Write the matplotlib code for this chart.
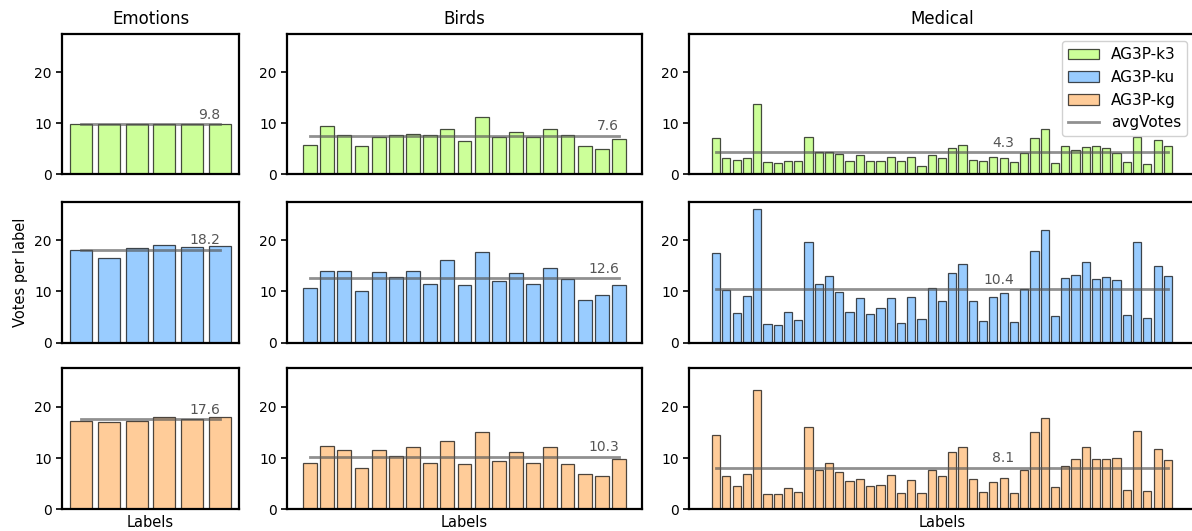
import numpy as np
import matplotlib
matplotlib.use('Agg')
import matplotlib.pyplot as plt

#Dataset names and number of labels per dataset.
datasets = ['Emotions', 'Birds', 'Medical']
methods = ['AG3P-k3', 'AG3P-ku', 'AG3P-kg']
colors = ['#ccff99', '#99ccff', '#ffcc99']

#Votes per label.
emotions_k3 = [9.9, 9.8, 9.8, 9.8, 9.8, 9.8]
emotions_ku = [18.05, 16.45, 18.4, 19.0, 18.6, 18.9]
emotions_kg = [17.25, 17.05, 17.25, 18.1, 17.7, 18.1]

birds_k3 = [5.85, 9.5, 7.75, 5.5, 7.4, 7.8, 7.95, 7.75, 8.9, 6.6,
            11.2, 7.4, 8.35, 7.25, 8.9, 7.8, 5.6, 4.9, 6.9]
birds_ku = [10.75, 13.95, 13.95, 10.15, 13.75, 12.8, 13.95, 11.4, 16.15, 11.3,
            17.8, 12.1, 13.55, 11.4, 14.65, 12.4, 8.3, 9.3, 11.25]
birds_kg = [8.95, 12.45, 11.5, 8.05, 11.5, 10.5, 12.25, 9.1, 13.25, 8.9,
            15.05, 9.35, 11.25, 8.95, 12.25, 8.9, 6.9, 6.45, 9.75]

medical_k3 = [7.1, 3.2, 2.85, 3.2, 13.7, 2.5, 2.2, 2.7, 2.6, 7.35,
              4.3, 4.3, 4.0, 2.65, 3.8, 2.6, 2.6, 3.5, 2.6, 3.4,
              1.65, 3.85, 3.2, 5.1, 5.75, 2.85, 2.7, 3.4, 3.2, 2.4,
              4.2, 7.15, 8.9, 2.2, 5.5, 4.8, 5.4, 5.5, 5.2, 4.2,
              2.45, 7.3, 2.0, 6.7, 5.5]
medical_ku = [17.6, 10.35, 5.85, 9.1, 26.2, 3.7, 3.5, 5.9, 4.5, 19.6,
              11.45, 13.0, 9.95, 6.05, 8.75, 5.65, 6.8, 8.7, 3.9, 8.95,
              4.55, 10.6, 8.2, 13.7, 15.4, 8.1, 4.2, 9.0, 9.8, 4.0,
              10.5, 17.9, 22.0, 5.15, 12.65, 13.2, 15.8, 12.4, 12.8, 12.3,
              5.4, 19.75, 4.9, 15.05, 13.0]
medical_kg = [14.6, 6.5, 4.6, 6.8, 23.2, 2.9, 3.05, 4.2, 3.45, 16.1,
              7.6, 8.95, 7.2, 5.6, 5.85, 4.6, 4.75, 6.75, 3.1, 5.7,
              3.2, 7.6, 6.45, 11.25, 12.15, 5.85, 3.4, 5.4, 6.15, 3.2,
              7.6, 15.1, 17.9, 4.35, 8.5, 9.75, 12.15, 9.85, 9.75, 10.05,
              3.7, 15.2, 3.5, 11.75, 9.55]

#Average votes per label as printed on the figure (rows = methods, cols = datasets).
avg_k3 = [9.8, 7.6, 4.3]
avg_ku = [18.2, 12.6, 10.4]
avg_kg = [17.6, 10.3, 8.1]

#Label index where the average text ends.
text_pos = [5, 18, 29]

values = [[emotions_k3, birds_k3, medical_k3],
          [emotions_ku, birds_ku, medical_ku],
          [emotions_kg, birds_kg, medical_kg]]
avgs = [avg_k3, avg_ku, avg_kg]

fig = plt.figure(figsize=(11.92, 5.31), dpi=100)

#Axes positions in pixels (left, right) and row bottoms in figure fraction.
col_px = [(62, 239), (287, 642), (689, 1195)]
row_bottom = [0.6714, 0.3546, 0.0409]
row_height = 0.2652

for r in range(3):
    for c in range(3):
        left, right = col_px[c]
        ax = fig.add_axes([left / 1192, row_bottom[r], (right - left) / 1192, row_height])
        vals = values[r][c]
        x = np.arange(len(vals))
        ax.bar(x, vals, width=0.8, color=colors[r], edgecolor=(0, 0, 0, 0.7),
               linewidth=0.9, label=methods[r])
        ax.plot([x[0], x[-1]], [avgs[r][c], avgs[r][c]], color='#555555', alpha=0.65,
                linewidth=2, label='avgVotes')
        ax.text(text_pos[c], avgs[r][c] + 0.45, str(avgs[r][c]), ha='right', va='bottom',
                color='#555555', fontsize=10)
        ax.set_ylim(0, 27.5)
        ax.set_yticks([0, 10, 20])
        ax.set_xticks([])
        ax.tick_params(axis='y', labelsize=10, width=1.2, length=4)
        for s in ax.spines.values():
            s.set_linewidth(1.6)
        if r == 0:
            ax.set_title(datasets[c], fontsize=12, pad=7)
        if r == 2:
            ax.set_xlabel('Labels', fontsize=10.5, labelpad=4)
        if r == 1 and c == 0:
            ax.set_ylabel('Votes per label', fontsize=10.5)
        if c == 2:
            if r == 0:
                leg_ax = ax
                handles = []
            h, l = ax.get_legend_handles_labels()
            handles.append(h[1])
            if r == 0:
                line_handle = h[0]

handles.append(line_handle)
leg_ax.legend(handles, methods + ['avgVotes'], loc='upper right', fontsize=11,
              framealpha=0.9)

fig.savefig('out.png', dpi=100)
